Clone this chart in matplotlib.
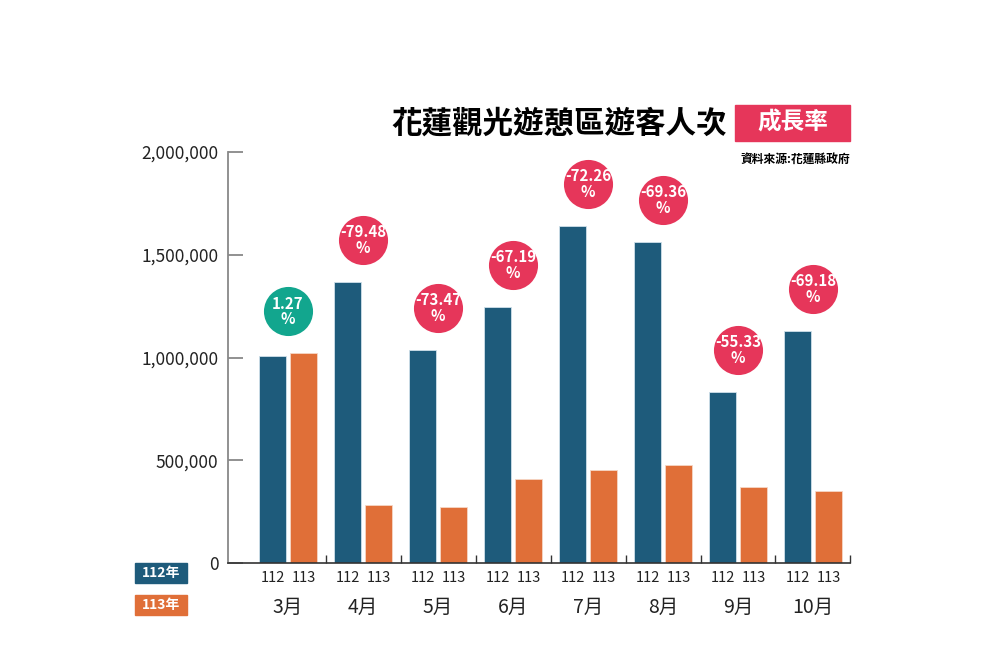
import matplotlib
matplotlib.use("Agg")
import matplotlib.pyplot as plt
import matplotlib.transforms as mtransforms
from matplotlib.patches import Rectangle
import numpy as np

plt.rcParams['font.family'] = ['Noto Sans CJK TC', 'DejaVu Sans']

months = ["3月", "4月", "5月", "6月", "7月", "8月", "9月", "10月"]
visitors_112 = [1007000, 1367000, 1036000, 1246000, 1640000, 1562000, 832000, 1129000]
visitors_113 = [1020000, 280000, 274000, 409000, 455000, 478000, 372000, 348000]
growth = ["1.27", "-79.48", "-73.47", "-67.19", "-72.26", "-69.36", "-55.33", "-69.18"]
year_labels = ["112", "113"]
yticks = [0, 500000, 1000000, 1500000, 2000000]

BLUE = "#1e5b7b"
ORANGE = "#e06f38"
RED = "#e6365a"
GREEN = "#12a68e"

fig = plt.figure(figsize=(10, 6.67), dpi=100)
ax = fig.add_axes([0.228, 0.1559, 0.6225, 0.6162])

x = np.arange(len(months))
off = 0.207
w = 0.37
ax.bar(x - off, visitors_112, width=w, color=BLUE, edgecolor="#cfe0ea", linewidth=0.6)
ax.bar(x + off, visitors_113, width=w, color=ORANGE, edgecolor="#f6d7c6", linewidth=0.6)

ax.set_xlim(-0.8, 7.5)
ax.set_ylim(0, 2000000)

ax.set_yticks(yticks)
ax.set_yticklabels([f"{v:,}" for v in yticks])
ax.tick_params(axis='y', direction='in', length=11, width=1.3, color="#888888",
               pad=7, labelsize=12.5, labelcolor="#222222")

# x: year labels under bars
xt = np.concatenate([x - off, x + off])
ax.set_xticks(xt)
ax.set_xticklabels([year_labels[0]] * len(x) + [year_labels[1]] * len(x))
ax.tick_params(axis='x', which='major', length=0, pad=6, labelsize=10.5, labelcolor="#222222")
ax.set_xticks(x + 0.5, minor=True)
ax.tick_params(axis='x', which='minor', direction='in', length=6, width=1.0, color="#333333")

for sp in ["top", "right"]:
    ax.spines[sp].set_visible(False)
ax.spines["left"].set_color("#888888")
ax.spines["left"].set_linewidth(1.3)
ax.spines["bottom"].set_color("#333333")
ax.spines["bottom"].set_linewidth(1.2)

# month labels
trans_m = mtransforms.blended_transform_factory(ax.transData, ax.transAxes)
for i, m in enumerate(months):
    ax.text(x[i], -0.107, m, transform=trans_m, ha='center', va='center',
            fontsize=14, color="#222222")

# bubbles
bub_tr = mtransforms.offset_copy(ax.transData, fig=fig, x=0, y=42, units='dots')
for i in range(len(months)):
    top = max(visitors_112[i], visitors_113[i])
    col = GREEN if not growth[i].startswith("-") else RED
    ax.scatter([x[i]], [top], s=1250, color=col, transform=bub_tr, zorder=5,
               clip_on=False, linewidths=0)
    ax.text(x[i], top, growth[i] + "\n%", transform=bub_tr, ha='center', va='center',
            color='white', fontsize=10.8, fontweight='bold', linespacing=0.95,
            zorder=6)

# title
fig.text(0.727, 0.815, "花蓮觀光遊憩區遊客人次", ha='right', va='center',
         fontsize=22, fontweight='bold', color='black')
fig.patches.append(Rectangle((0.735, 1 - 141 / 667), 0.115, 36 / 667,
                             transform=fig.transFigure, color=RED, zorder=1))
fig.text(0.7925, 1 - 123 / 667, "成長率", ha='center', va='center',
         fontsize=17, fontweight='bold', color='white', zorder=2)
fig.text(0.850, 1 - 159 / 667, "資料來源:花蓮縣政府", ha='right', va='center',
         fontsize=8.5, fontweight='bold', color='black')

# legend boxes
for (yc, lab, col) in [(573, "112年", BLUE), (605, "113年", ORANGE)]:
    fig.patches.append(Rectangle((0.135, 1 - (yc + 10) / 667), 0.052, 20 / 667,
                                 transform=fig.transFigure, color=col, zorder=1))
    fig.text(0.161, 1 - yc / 667, lab, ha='center', va='center', fontsize=10,
             fontweight='bold', color='white', zorder=2)

fig.savefig("out.png", dpi=100, facecolor='white')
